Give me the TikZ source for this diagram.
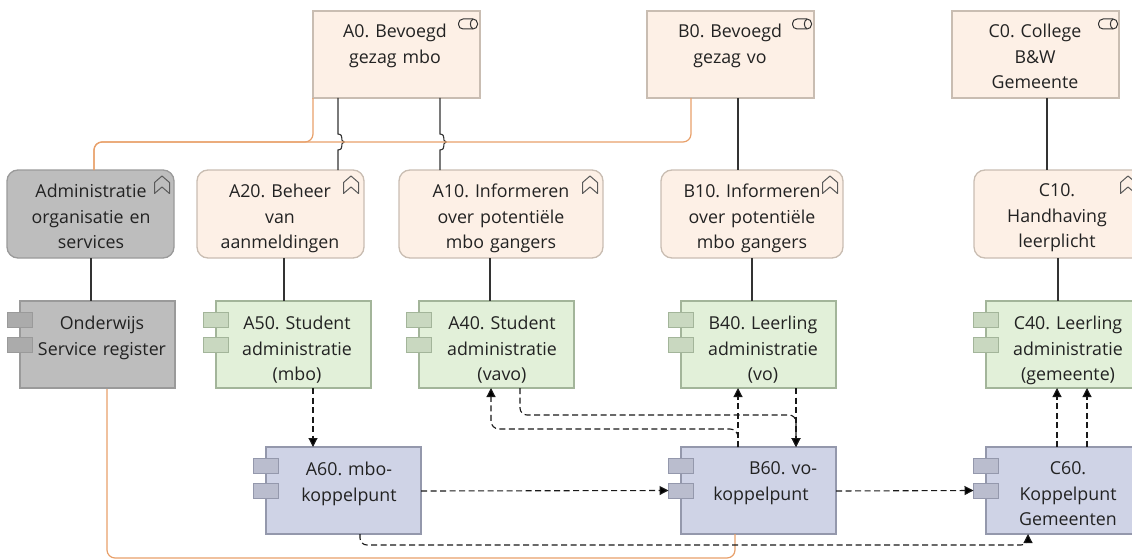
\documentclass[tikz,border=0pt]{standalone}
\usepackage{fontspec}
\setmainfont{Open Sans}
\usetikzlibrary{arrows.meta}
\definecolor{peach}{HTML}{FDF0E6}
\definecolor{peachline}{HTML}{C9BDB2}
\definecolor{greenf}{HTML}{E2F0D9}
\definecolor{greenl}{HTML}{A3B59A}
\definecolor{greent}{HTML}{C9D8C0}
\definecolor{bluef}{HTML}{CFD3E6}
\definecolor{bluel}{HTML}{9498AC}
\definecolor{bluet}{HTML}{BABDCE}
\definecolor{grayf}{HTML}{BDBDBD}
\definecolor{grayl}{HTML}{9A9A9A}
\definecolor{grayt}{HTML}{ABABAB}
\definecolor{orangel}{HTML}{E8A06A}
\definecolor{txt}{HTML}{222222}
\frenchspacing
\tikzset{
 x=1pt,y=-1pt,
 every node/.style={font=\fontsize{17.8}{25.5}\selectfont,text=txt,align=center,inner sep=0pt,outer sep=0pt},
 actor/.style={draw=peachline,line width=1.3pt,fill=peach,minimum width=167pt,minimum height=87pt},
 proc/.style={draw=#1,line width=1.3pt,rounded corners=11pt,minimum height=88pt,minimum width=167pt},
 comp/.style={minimum width=155pt,minimum height=87pt,line width=1.3pt},
 tab/.style={minimum width=25pt,minimum height=15pt,line width=1pt},
 solidl/.style={draw=black!80,line width=1.1pt},
 dashl/.style={draw=black!90,line width=1.1pt,dash pattern=on 6pt off 3.5pt},
 arrow/.style={-{Triangle[length=9pt,width=9pt,fill=black]}},
 flow/.style={draw=orangel,line width=1.2pt,rounded corners=8pt},
 lbl/.style={anchor=north,text width=160pt},
}
\newcommand{\actoricon}[2]{\draw[black!80,line width=1pt,rounded corners=4.5pt] (#1-9.5,#2-5) rectangle (#1+9.5,#2+5);\draw[black!80,line width=1pt] (#1+5,#2-5) .. controls (#1+1.5,#2-3) and (#1+1.5,#2+3) .. (#1+5,#2+5);}
\newcommand{\procicon}[2]{\draw[black!65,line width=1pt,line join=round] (#1-7.5,#2-2.5) -- (#1,#2-9) -- (#1+7.5,#2-2.5) -- (#1+7.5,#2+8.5) -- (#1,#2+2) -- (#1-7.5,#2+8.5) -- cycle;}
\begin{document}
\begin{tikzpicture}
\useasboundingbox (0,0) rectangle (1132,559);
\clip (0,0) rectangle (1132,559);
% actors
\node[actor,anchor=north west] (A0) at (313,11) {};
\node[actor,anchor=north west] (B0) at (647,11) {};
\node[actor,anchor=north west] (C0) at (952,11) {};
% processes
\node[proc=grayl,fill=grayf,anchor=north west] (P0) at (7,170) {};
\node[proc=peachline,fill=peach,anchor=north west] (A20) at (197,170) {};
\node[proc=peachline,fill=peach,anchor=north west,minimum width=204pt] (A10) at (399,170) {};
\node[proc=peachline,fill=peach,anchor=north west,minimum width=182pt] (B10) at (661,170) {};
\node[proc=peachline,fill=peach,anchor=north west,minimum width=182pt] (C10) at (974,170) {};
% components
\node[comp,draw=grayl,fill=grayf,anchor=north west] (OSR) at (20,301) {};
\node[comp,draw=greenl,fill=greenf,anchor=north west] (A50) at (216,301) {};
\node[comp,draw=greenl,fill=greenf,anchor=north west] (A40) at (419,301) {};
\node[comp,draw=greenl,fill=greenf,anchor=north west] (B40) at (681,301) {};
\node[comp,draw=greenl,fill=greenf,anchor=north west] (C40) at (986,301) {};
\node[comp,draw=bluel,fill=bluef,anchor=north west] (A60) at (266,447) {};
\node[comp,draw=bluel,fill=bluef,anchor=north west] (B60) at (681,447) {};
\node[comp,draw=bluel,fill=bluef,anchor=north west] (C60) at (986,447) {};
% tabs
\foreach \n/\x/\fc/\lc in {OSR/20/grayt/grayl,A50/216/greent/greenl,A40/419/greent/greenl,B40/681/greent/greenl,C40/986/greent/greenl}{
 \node[tab,draw=\lc,fill=\fc] (\n t1) at (\x,320) {};
 \node[tab,draw=\lc,fill=\fc] (\n t2) at (\x,344.5) {};
}
\foreach \n/\x/\fc/\lc in {A60/266/bluet/bluel,B60/681/bluet/bluel,C60/986/bluet/bluel}{
 \node[tab,draw=\lc,fill=\fc] (\n t1) at (\x,466) {};
 \node[tab,draw=\lc,fill=\fc] (\n t2) at (\x,490.5) {};
}
% solid composition lines
\draw[solidl] (A0.south-|338,98) -- (338,134) .. controls (345,135) and (339,140) .. (344,142) .. controls (339,144) and (345,149) .. (338,150) -- (A20.north-|338,170);
\draw[solidl] (A0.south-|440,98) -- (440,134) .. controls (447,135) and (441,140) .. (446,142) .. controls (441,144) and (447,149) .. (440,150) -- (A10.north-|440,170);
\draw[solidl] (B0.south-|738,98) -- (B10.north-|738,170);
\draw[solidl] (C0.south-|1047,98) -- (C10.north-|1047,170);
\draw[solidl] (P0.south-|91,258) -- (OSR.north-|91,301);
\draw[solidl] (A20.south-|284,258) -- (A50.north-|284,301);
\draw[solidl] (A10.south-|490,258) -- (A40.north-|490,301);
\draw[solidl] (B10.south-|752,258) -- (B40.north-|752,301);
\draw[solidl] (C10.south-|1058,258) -- (C40.north-|1058,301);
% orange flows
\draw[flow] (A0.south west) -- (313,142) -- (94,142) -- (94,170);
\draw[flow] (B0.south-|691,98) -- (691,142) -- (94,142) -- (94,170);
\draw[flow] (107,389) -- (107,558) -- (735,558) -- (735,534);
% dashed
\draw[dashl,arrow] (A50.south-|313,389) -- (A60.north-|313,447);
\draw[dashl,arrow] (A60.east|-0,491) -- (B60t2.west);
\draw[dashl,arrow] (B60.east|-0,491) -- (C60t2.west);
\draw[dashl,arrow,rounded corners=7pt] (A60.south-|360,534) -- (360,545) -- (1028,545) -- (C60.south-|1028,534);
\draw[dashl,arrow] (B60.north-|738,447) -- (B40.south-|738,389);
\draw[dashl,arrow,rounded corners=8pt] (B60.north-|738,447) -- (738,429) -- (491,429) -- (A40.south-|491,389);
\draw[dashl,arrow,rounded corners=7pt] (A40.south-|520,389) -- (520,415) -- (796,415) -- (B60.north-|796,447);
\draw[dashl,arrow] (B40.south-|796,389) -- (B60.north-|796,447);
\draw[dashl,arrow] (C60.north-|1057,447) -- (C40.south-|1057,389);
\draw[dashl,arrow] (C60.north-|1087,447) -- (C40.south-|1087,389);
% labels
\node[lbl] (lA0) at (395,24) {A0. Bevoegd\\gezag mbo};
\node[lbl] (lB0) at (730,24) {B0. Bevoegd\\gezag vo};
\node[lbl] (lC0) at (1035,24) {C0. College\\B\&W\\Gemeente};
\node[lbl] (lP0) at (91,184) {Administratie\\organisatie en\\services};
\node[lbl] (lA20) at (280,184) {A20. Beheer\\van\\aanmeldingen};
\node[lbl] (lA10) at (501,184) {A10. Informeren\\over potentiële\\mbo gangers};
\node[lbl] (lB10) at (752,184) {B10. Informeren\\over potentiële\\mbo gangers};
\node[lbl] (lC10) at (1057,184) {C10.\\Handhaving\\leerplicht};
\node[lbl] (lOSR) at (102,316) {Onderwijs\\Service register};
\node[lbl] (lA50) at (297,316) {A50. Student\\administratie\\(mbo)};
\node[lbl] (lA40) at (502,316) {A40. Student\\administratie\\(vavo)};
\node[lbl] (lB40) at (763,316) {B40. Leerling\\administratie\\(vo)};
\node[lbl] (lC40) at (1068,316) {C40. Leerling\\administratie\\(gemeente)};
\node[lbl] (lA60) at (349,462) {A60. mbo-\\koppelpunt};
\node[lbl] (lB60) at (761,462) {\hspace*{44pt}B60. vo-\\koppelpunt};
\node[lbl] (lC60) at (1068,462) {C60.\\Koppelpunt\\Gemeenten};
% icons
\actoricon{468}{24}
\actoricon{802}{24}
\actoricon{1108}{24}
\procicon{162}{185}
\procicon{351}{185}
\procicon{590}{185}
\procicon{830}{185}
\procicon{1128}{185}
\end{tikzpicture}
\end{document}
